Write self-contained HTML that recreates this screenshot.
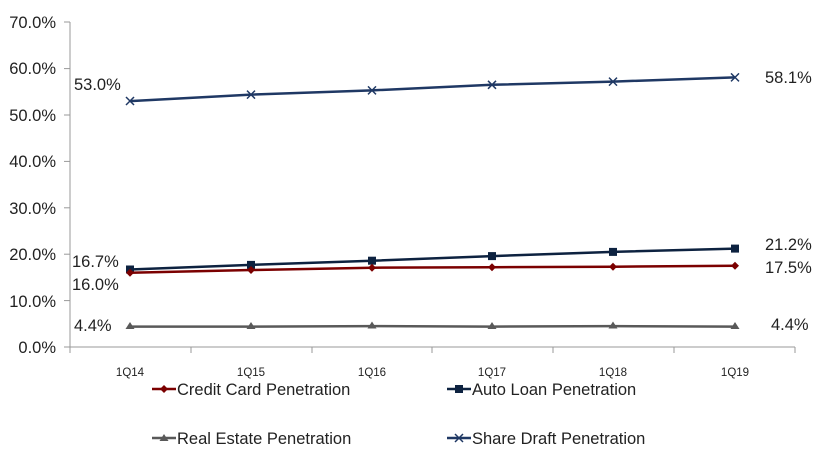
<!DOCTYPE html><html><head><style>body{margin:0;background:#fff}svg text{font-family:"Liberation Sans",sans-serif;fill:#222}</style></head><body>
<svg width="816" height="450" xmlns="http://www.w3.org/2000/svg">
<g font-size="16.5" text-anchor="end">
<text x="56" y="353">0.0%</text><text x="56" y="307">10.0%</text><text x="56" y="260">20.0%</text><text x="56" y="214">30.0%</text><text x="56" y="167">40.0%</text><text x="56" y="121">50.0%</text><text x="56" y="74">60.0%</text><text x="56" y="28">70.0%</text>
</g>
<g stroke="#999" stroke-width="1">
<line x1="70" y1="22" x2="70" y2="347"/><line x1="70" y1="347" x2="795" y2="347"/>
<line x1="64" y1="347" x2="70" y2="347"/><line x1="64" y1="300.6" x2="70" y2="300.6"/><line x1="64" y1="254.2" x2="70" y2="254.2"/><line x1="64" y1="207.8" x2="70" y2="207.8"/><line x1="64" y1="161.4" x2="70" y2="161.4"/><line x1="64" y1="115" x2="70" y2="115"/><line x1="64" y1="68.6" x2="70" y2="68.6"/><line x1="64" y1="22" x2="70" y2="22"/>
<line x1="70" y1="347" x2="70" y2="353"/><line x1="191" y1="347" x2="191" y2="353"/><line x1="312" y1="347" x2="312" y2="353"/><line x1="432" y1="347" x2="432" y2="353"/><line x1="553" y1="347" x2="553" y2="353"/><line x1="674" y1="347" x2="674" y2="353"/><line x1="795" y1="347" x2="795" y2="353"/>
</g>
<g font-size="11.5" text-anchor="middle"><text x="130" y="376">1Q14</text><text x="251" y="376">1Q15</text><text x="372" y="376">1Q16</text><text x="492" y="376">1Q17</text><text x="613" y="376">1Q18</text><text x="735" y="376">1Q19</text></g>
<polyline fill="none" stroke="#1f3864" stroke-width="2.5" points="130,101.1 251,94.6 372,90.4 492,84.8 613,81.6 735,77.4"/>
<g stroke="#1f3864" stroke-width="1.5">
<path d="M126,97l8,8M126,105l8-8"/><path d="M247,90.6l8,8M247,98.6l8-8"/><path d="M368,86.4l8,8M368,94.4l8-8"/><path d="M488,80.8l8,8M488,88.8l8-8"/><path d="M609,77.6l8,8M609,85.6l8-8"/><path d="M731,73.4l8,8M731,81.4l8-8"/></g>
<polyline fill="none" stroke="#0d2240" stroke-width="2.5" points="130,269.5 251,264.9 372,260.7 492,256.1 613,251.9 735,248.6"/>
<g fill="#0d2240"><rect x="126" y="265.5" width="8" height="8"/><rect x="247" y="260.9" width="8" height="8"/><rect x="368" y="256.7" width="8" height="8"/><rect x="488" y="252.1" width="8" height="8"/><rect x="609" y="247.9" width="8" height="8"/><rect x="731" y="244.6" width="8" height="8"/></g>
<polyline fill="none" stroke="#7b0000" stroke-width="2.5" points="130,272.8 251,270 372,267.7 492,267.2 613,266.7 735,265.8"/>
<g fill="#7b0000"><path d="M130,268.8l4,4-4,4-4-4z"/><path d="M251,266l4,4-4,4-4-4z"/><path d="M372,263.7l4,4-4,4-4-4z"/><path d="M492,263.2l4,4-4,4-4-4z"/><path d="M613,262.7l4,4-4,4-4-4z"/><path d="M735,261.8l4,4-4,4-4-4z"/></g>
<polyline fill="none" stroke="#595959" stroke-width="2.5" points="130,326.6 251,326.6 372,326.1 492,326.6 613,326.1 735,326.6"/>
<g fill="#595959"><path d="M130,322l4.5,7h-9z"/><path d="M251,322l4.5,7h-9z"/><path d="M372,321.5l4.5,7h-9z"/><path d="M492,322l4.5,7h-9z"/><path d="M613,321.5l4.5,7h-9z"/><path d="M735,322l4.5,7h-9z"/></g>
<g font-size="16.5"><text x="74" y="90">53.0%</text><text x="765" y="83">58.1%</text><text x="72" y="267">16.7%</text><text x="72" y="290">16.0%</text><text x="765" y="250">21.2%</text><text x="765" y="273">17.5%</text><text x="74" y="331">4.4%</text><text x="771" y="330">4.4%</text></g>
<g font-size="16.5">
<line x1="152" y1="389" x2="176" y2="389" stroke="#7b0000" stroke-width="2.5"/><path d="M164,385l4,4-4,4-4-4z" fill="#7b0000"/><text x="177" y="395">Credit Card Penetration</text>
<line x1="447" y1="389" x2="471" y2="389" stroke="#0d2240" stroke-width="2.5"/><rect x="455" y="385" width="8" height="8" fill="#0d2240"/><text x="472" y="395">Auto Loan Penetration</text>
<line x1="152" y1="438" x2="176" y2="438" stroke="#595959" stroke-width="2.5"/><path d="M164,434l4.5,7h-9z" fill="#595959"/><text x="177" y="444">Real Estate Penetration</text>
<line x1="447" y1="438" x2="471" y2="438" stroke="#1f3864" stroke-width="2.5"/><path d="M455,434l8,8M455,442l8-8" stroke="#1f3864" stroke-width="1.5"/><text x="472" y="444">Share Draft Penetration</text>
</g>
</svg></body></html>
